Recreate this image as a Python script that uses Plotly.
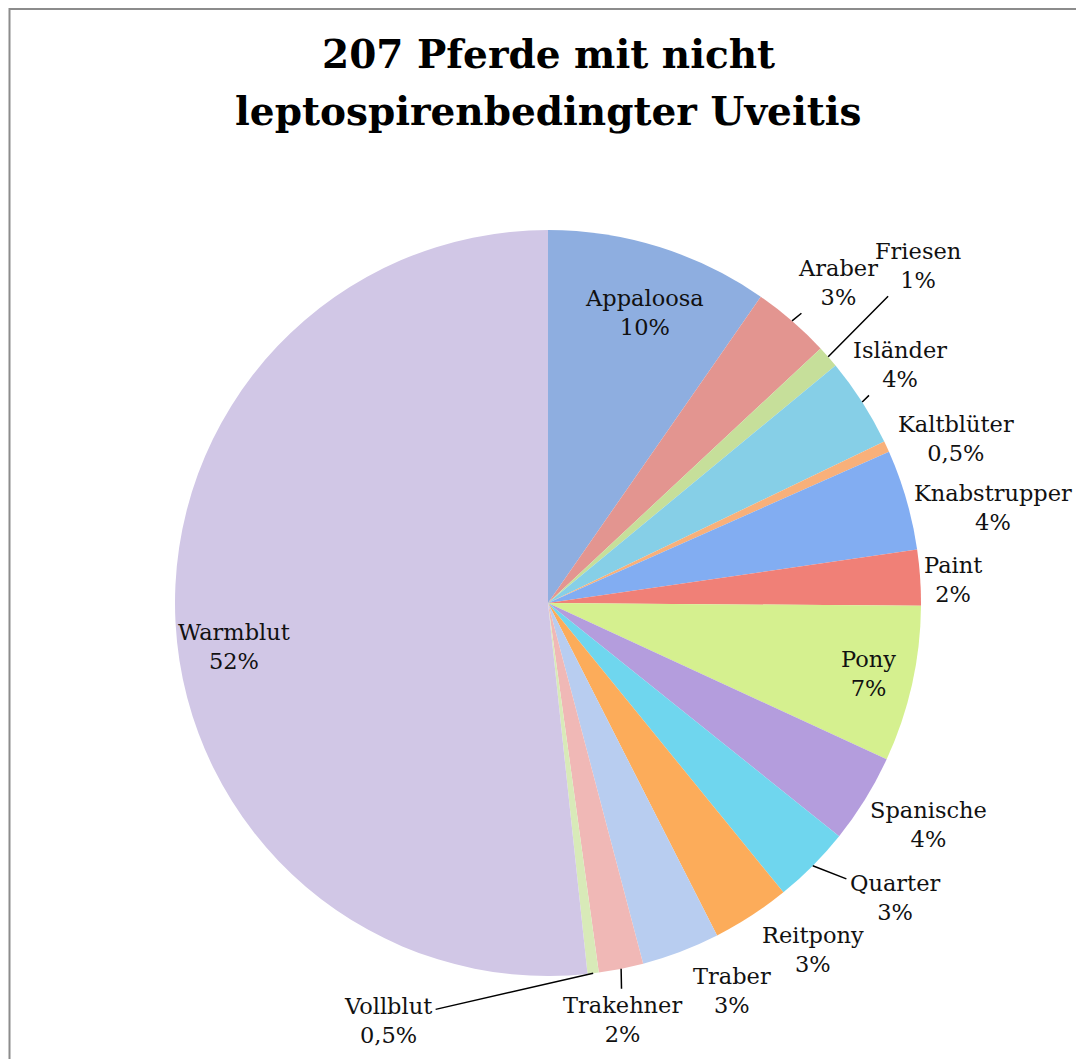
import math
import plotly.graph_objects as go

breeds = ["Appaloosa", "Araber", "Friesen", "Isländer", "Kaltblüter", "Knabstrupper",
          "Paint", "Pony", "Spanische", "Quarter", "Reitpony", "Traber", "Trakehner",
          "Vollblut", "Warmblut"]
counts = [20, 7, 2, 8, 1, 9, 5, 14, 8, 7, 7, 7, 4, 1, 107]
colors = ["#8eaee0", "#e39590", "#c6df9a", "#86cfe7", "#f8b07a", "#82adf2",
          "#f08077", "#d5f08f", "#b49ddd", "#6fd6ee", "#fcac5a", "#b8cdf0",
          "#f0b8b6", "#d8eab8", "#d1c7e6"]
title_lines = ["207 Pferde mit nicht", "leptospirenbedingter Uveitis"]

# label placement (pixel offsets of each label from the rim point at its slice's mid-angle)
label_dx = [-15, 46, 90, 38, 69, 87, 33, -44, 63, 82, 62, 51, 1, -205, 58]
label_dy = [65, -38, -91, -37, -8, 8, 2, -11, 25, 32, 34, 39, 51, 47, 24]
leader = [False, True, True, True, False, False, False, False, False, True,
          False, False, True, True, False]

total = sum(counts)


def fmt_pct(v):
    p = v / total * 100
    if p < 0.75:
        return f"{p:.1f}".replace(".", ",") + "%"
    return f"{round(p)}%"


W, H = 1076, 1051
cx, cy, r = 540, 595, 373

fig = go.Figure(go.Pie(
    labels=breeds,
    values=counts,
    textinfo="none",
    sort=False,
    direction="clockwise",
    rotation=0,
    marker=dict(colors=colors, line=dict(width=0)),
    domain=dict(x=[(cx - r) / W, (cx + r) / W], y=[(H - cy - r) / H, (H - cy + r) / H]),
    showlegend=False,
    hoverinfo="label+percent",
))

font = dict(family="DejaVu Serif", size=22.5, color="#111111")
annotations = []
cum = 0
for b, c, dx, dy, ld in zip(breeds, counts, label_dx, label_dy, leader):
    mid = (cum + c / 2) / total * 2 * math.pi
    cum += c
    px = cx + r * math.sin(mid)
    py = cy - r * math.cos(mid)
    annotations.append(dict(
        x=px / W, y=(H - py) / H, xref="paper", yref="paper",
        text=f"{b}<br>{fmt_pct(c)}",
        showarrow=True, ax=dx, ay=dy, axref="pixel", ayref="pixel",
        arrowhead=0, arrowwidth=1.5, standoff=0, startstandoff=2,
        arrowcolor="#000000" if ld else "rgba(0,0,0,0)",
        font=font, align="center",
    ))

for i, (line, yc) in enumerate(zip(title_lines, [46, 103])):
    annotations.append(dict(
        x=cx / W, y=(H - yc) / H, xref="paper", yref="paper",
        xanchor="center", yanchor="middle", showarrow=False,
        text=f"<b>{line}</b>",
        font=dict(family="DejaVu Serif", size=39, color="#000000"),
    ))

fig.update_layout(
    width=W, height=H,
    margin=dict(l=0, r=0, t=0, b=0),
    paper_bgcolor="white",
    annotations=annotations,
    shapes=[dict(type="rect", xref="paper", yref="paper",
                 x0=1.5 / W, x1=1.02, y0=-0.02, y1=1 - 1 / H,
                 line=dict(color="#8c8c8c", width=2))],
)

fig.write_html("out.html")
